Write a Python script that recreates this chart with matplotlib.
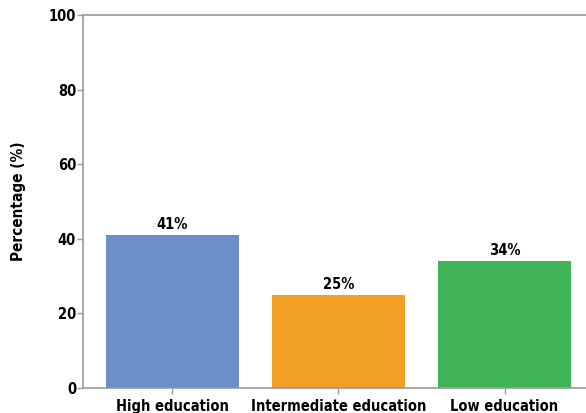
import matplotlib.pyplot as plt

categories = ["High education", "Intermediate education", "Low education"]
values = [41, 25, 34]
colors = ["#6b8fc7", "#f29f26", "#40b558"]

plt.rcParams["font.family"] = ["DejaVu Sans"]
plt.rcParams["font.stretch"] = "condensed"

fig = plt.figure(figsize=(5.86, 4.13), dpi=100)
ax = fig.add_axes([83 / 586, 25 / 413, 1 - 83 / 586, 373 / 413])

x = range(len(categories))
ax.bar(x, values, width=0.8, color=colors)
for xi, v in zip(x, values):
    ax.text(xi, v + 0.8, f"{v}%", ha="center", va="bottom", fontsize=10.5,
            fontweight="bold", fontstretch="condensed")

ax.set_xlim(-0.536, 2.49)
ax.set_ylim(0, 100)
ax.set_yticks([0, 20, 40, 60, 80, 100])
ax.set_xticks(list(x))
ax.set_xticklabels(categories, fontsize=10.5, fontweight="bold",
                   fontstretch="condensed")
ax.tick_params(axis="y", labelsize=10.5, length=4, color="#999999", width=1, pad=1)
ax.tick_params(axis="x", length=4, color="#999999", width=1, pad=4)
for lab in ax.get_yticklabels():
    lab.set_fontweight("bold")
    lab.set_fontstretch("condensed")
ax.set_ylabel("Percentage (%)", fontsize=11, fontweight="bold",
              fontstretch="condensed", labelpad=16)

for side in ["left", "top", "bottom"]:
    ax.spines[side].set_color("#999999")
    ax.spines[side].set_linewidth(1.2)
ax.spines["right"].set_visible(False)

fig.savefig("out.png", dpi=100)
